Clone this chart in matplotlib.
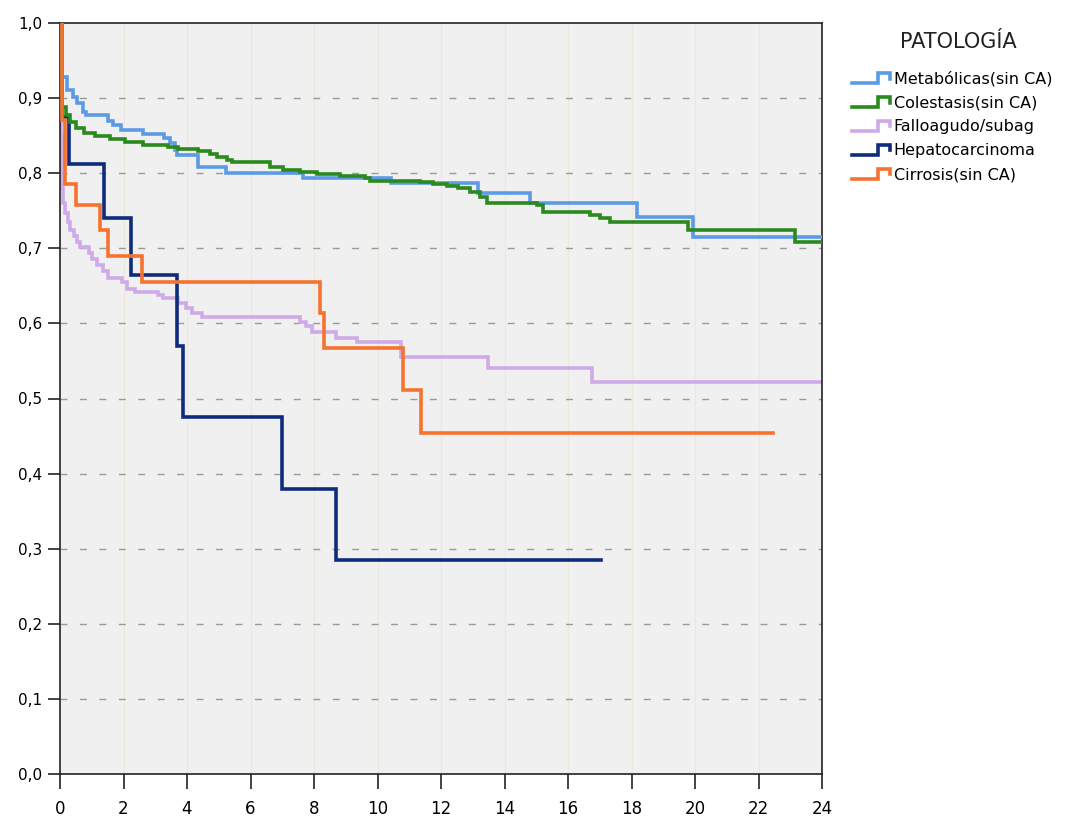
import numpy as np
import matplotlib
matplotlib.use("Agg")
import matplotlib.pyplot as plt
from matplotlib.lines import Line2D
from matplotlib.legend_handler import HandlerBase

# survival steps (time in months, cumulative survival)
met_t = [0, 0.07, 0.22, 0.41, 0.54, 0.72, 0.82, 1.51, 1.67, 1.92, 2.61, 3.28, 3.46, 3.62, 3.69,
         4.35, 5.23, 7.65, 10.43, 13.17, 14.80, 18.17, 19.94, 24.0]
met_s = [1.0, 0.928, 0.911, 0.902, 0.893, 0.882, 0.877, 0.870, 0.864, 0.858, 0.852, 0.847, 0.840,
         0.831, 0.824, 0.808, 0.800, 0.794, 0.787, 0.774, 0.760, 0.742, 0.715, 0.715]

col_t = [0, 0.06, 0.19, 0.31, 0.50, 0.76, 1.10, 1.57, 2.05, 2.61, 3.40, 3.72, 4.35, 4.72, 4.94,
         5.26, 5.42, 6.61, 7.02, 7.56, 8.09, 8.82, 9.61, 9.76, 11.34, 11.75, 12.19, 12.54, 12.91,
         13.23, 13.45, 15.02, 15.21, 16.69, 17.01, 17.32, 19.78, 23.15, 24.0]
col_s = [1.0, 0.888, 0.878, 0.868, 0.860, 0.853, 0.849, 0.845, 0.841, 0.837, 0.835, 0.832, 0.829,
         0.826, 0.822, 0.818, 0.815, 0.808, 0.804, 0.801, 0.799, 0.796, 0.793, 0.790, 0.788, 0.786,
         0.783, 0.780, 0.775, 0.768, 0.760, 0.757, 0.748, 0.745, 0.740, 0.735, 0.724, 0.708, 0.708]

fal_t = [0, 0.02, 0.05, 0.09, 0.16, 0.25, 0.31, 0.44, 0.54, 0.63, 0.91, 1.01, 1.17, 1.35, 1.51,
         1.95, 2.11, 2.36, 3.09, 3.24, 3.72, 3.97, 4.16, 4.47, 7.56, 7.75, 7.94, 8.69, 9.35, 10.74,
         13.48, 16.76, 24.0]
fal_s = [1.0, 0.85, 0.78, 0.760, 0.747, 0.735, 0.724, 0.716, 0.708, 0.702, 0.694, 0.686, 0.678,
         0.670, 0.660, 0.655, 0.646, 0.642, 0.638, 0.634, 0.627, 0.620, 0.614, 0.609, 0.602, 0.596,
         0.589, 0.581, 0.575, 0.555, 0.540, 0.522, 0.522]

hep_t = [0, 0.07, 0.28, 1.39, 2.24, 3.68, 3.87, 7.0, 8.70, 17.04]
hep_s = [1.0, 0.875, 0.812, 0.740, 0.665, 0.570, 0.475, 0.380, 0.285, 0.285]

cir_t = [0, 0.06, 0.17, 0.50, 1.25, 1.52, 2.58, 8.19, 8.30, 10.80, 11.37, 22.46]
cir_s = [1.0, 0.871, 0.786, 0.757, 0.724, 0.690, 0.655, 0.614, 0.567, 0.511, 0.454, 0.454]

labels = ["Metabólicas(sin CA)", "Colestasis(sin CA)", "Falloagudo/subag",
          "Hepatocarcinoma", "Cirrosis(sin CA)"]
colors = ["#5b9be6", "#2a8a1e", "#cfaae8", "#0f2b7c", "#f5722f"]
zorders = [4, 5, 2, 3, 6]

x_ticks = list(range(0, 25, 2))
y_ticks = [i / 10 for i in range(11)]


class StepHandler(HandlerBase):
    def create_artists(self, legend, orig_handle, xdescent, ydescent,
                       width, height, fontsize, trans):
        x0, y0 = -xdescent, -ydescent
        xs = [x0, x0 + 0.68 * width, x0 + 0.68 * width, x0 + width, x0 + width]
        ys = [y0 + 0.1 * height, y0 + 0.1 * height, y0 + 0.85 * height,
              y0 + 0.85 * height, y0 + 0.45 * height]
        ln = Line2D(xs, ys, color=orig_handle.get_color(),
                    lw=orig_handle.get_linewidth(), solid_joinstyle="miter")
        ln.set_transform(trans)
        return [ln]


fig = plt.figure(figsize=(10.65, 8.19), dpi=100)
ax = fig.add_axes([60 / 1065, 45 / 819, 762 / 1065, 751 / 819])
ax.set_facecolor("#f0f0f0")

series = [(met_t, met_s), (col_t, col_s), (fal_t, fal_s), (hep_t, hep_s), (cir_t, cir_s)]
handles = []
for (t, s), lab, c, z in zip(series, labels, colors, zorders):
    h, = ax.step(t, s, where="post", color=c, lw=2.6, label=lab, zorder=z,
                 solid_joinstyle="miter")
    handles.append(h)

ax.set_xlim(0, 24)
ax.set_ylim(0, 1.0)
ax.set_xticks(x_ticks)
ax.set_xticklabels([str(v) for v in x_ticks], fontsize=12)
ax.set_yticks(y_ticks)
ax.set_yticklabels([f"{v:.1f}".replace(".", ",") for v in y_ticks], fontsize=11)

for v in y_ticks[1:-1]:
    ax.axhline(v, color="#9a9a9a", lw=1.0, ls=(0, (5, 9)), zorder=1)
for v in x_ticks[1:-1]:
    ax.axvline(v, color="#ece8dc", lw=0.8, zorder=0.5)

for sp in ax.spines.values():
    sp.set_color("#222222")
    sp.set_linewidth(1.2)
ax.tick_params(axis="y", length=9, width=1.2, color="#222222", pad=4)
ax.tick_params(axis="x", length=11, width=1.2, color="#222222", pad=8)

fig.text(958 / 1065, 1 - 42 / 819, "PATOLOGÍA", fontsize=15, color="#222222",
         ha="center", va="center")
leg = fig.legend(handles=handles, labels=labels, loc="upper left",
                 bbox_to_anchor=(852 / 1065, 1 - 71 / 819), frameon=False,
                 borderpad=0, borderaxespad=0, fontsize=11.5,
                 handler_map={Line2D: StepHandler()}, handlelength=2.4,
                 handleheight=0.9, handletextpad=0.2, labelspacing=0.55)

fig.savefig("out.png", dpi=100)
